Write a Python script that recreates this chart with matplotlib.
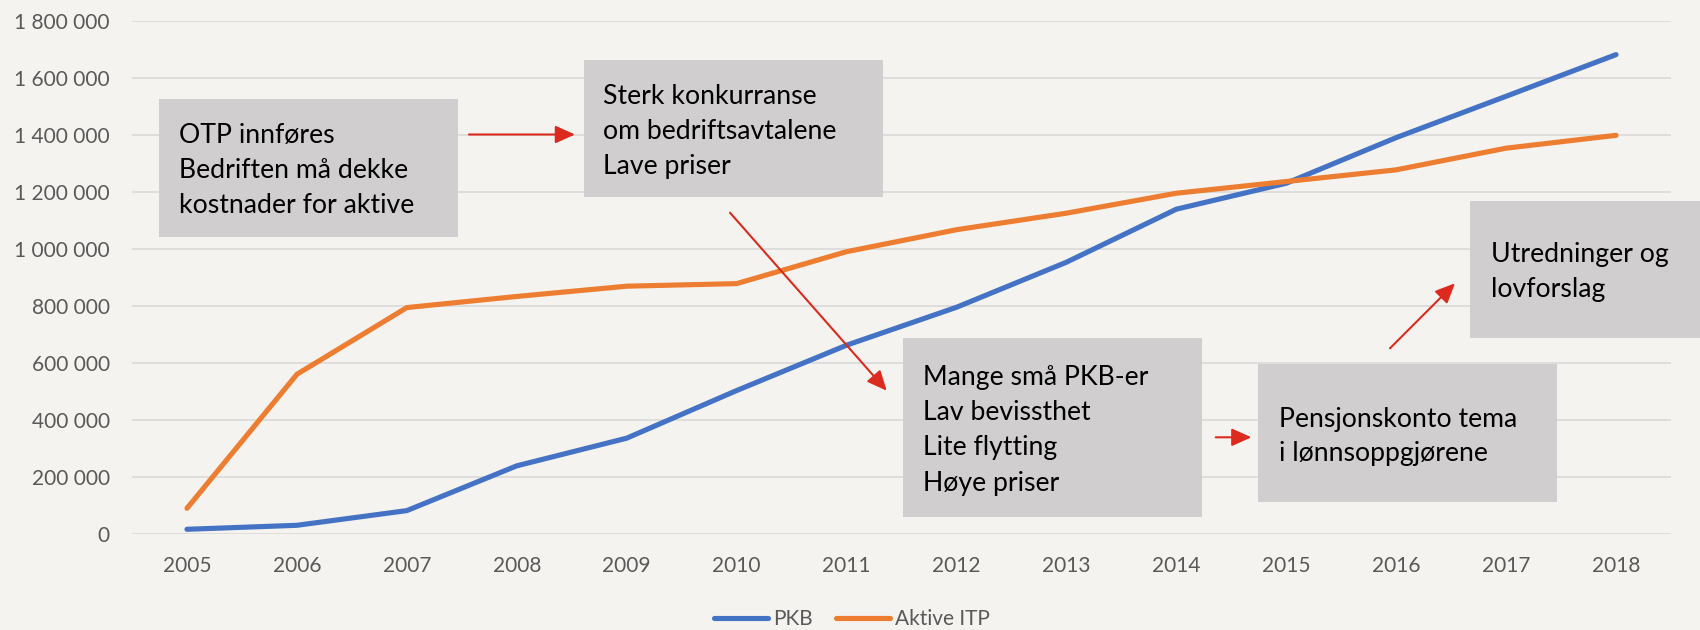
import matplotlib
matplotlib.use("Agg")
import matplotlib.pyplot as plt
from matplotlib.patches import Rectangle, FancyArrowPatch
from matplotlib.ticker import FuncFormatter, MultipleLocator

# ---------------- data ----------------
years = ["2005", "2006", "2007", "2008", "2009", "2010", "2011",
         "2012", "2013", "2014", "2015", "2016", "2017", "2018"]
pkb = [16500, 30500, 82000, 239000, 336000, 503000, 662000,
       795000, 953000, 1139000, 1230000, 1390000, 1535000, 1681000]
aktive_itp = [90000, 560000, 794000, 833000, 869000, 878000, 990000,
              1067000, 1125000, 1195000, 1236000, 1277000, 1353000, 1398000]
series_names = ["PKB", "Aktive ITP"]

box_texts = [
    ["OTP innføres", "Bedriften må dekke", "kostnader for aktive"],
    ["Sterk konkurranse", "om bedriftsavtalene", "Lave priser"],
    ["Mange små PKB-er", "Lav bevissthet", "Lite flytting", "Høye priser"],
    ["Pensjonskonto tema", "i lønnsoppgjørene"],
    ["Utredninger og", "lovforslag"],
]

# ---------------- style ----------------
W, H = 1700, 630
BG = "#F5F3EF"
BOX = "#D0CECE"
RED = "#DC2A1E"
BLUE = "#4472C4"
ORANGE = "#ED7D31"
GRAY = "#595959"
FONT = "Lato"

plt.rcParams["font.family"] = [FONT, "DejaVu Sans"]

fig = plt.figure(figsize=(W / 100, H / 100), dpi=100, facecolor=BG)


def fx(px):
    return px / W


def fy(py):
    return 1 - py / H


ax_l, ax_r, ax_t, ax_b = 132, 1671, 20.7, 534
ax = fig.add_axes([fx(ax_l), fy(ax_b), fx(ax_r - ax_l), (ax_b - ax_t) / H])
ax.set_facecolor(BG)

x = list(range(len(years)))
ax.plot(x, pkb, color=BLUE, lw=3.7, solid_capstyle="round",
        solid_joinstyle="round", label=series_names[0], zorder=3)
ax.plot(x, aktive_itp, color=ORANGE, lw=3.7, solid_capstyle="round",
        solid_joinstyle="round", label=series_names[1], zorder=3)

ax.set_xlim(-0.5, len(years) - 0.5)
ax.set_ylim(0, 1800000)
ax.yaxis.set_major_locator(MultipleLocator(200000))
ax.yaxis.set_major_formatter(FuncFormatter(lambda v, p: f"{int(v):,}".replace(",", " ")))
ax.set_xticks(x)
ax.set_xticklabels(years)
ax.grid(axis="y", color="#D9D9D9", lw=1.2, zorder=0)
ax.set_axisbelow(True)
for s in ax.spines.values():
    s.set_visible(False)
ax.tick_params(axis="both", length=0, colors=GRAY, labelsize=15)
ax.tick_params(axis="y", pad=16)
ax.tick_params(axis="x", pad=16)

# legend
fig.legend(loc="center", bbox_to_anchor=(fx(852), fy(619)), ncol=2,
           frameon=False, fontsize=15, handlelength=2.6, handletextpad=0.25,
           columnspacing=1.1, labelcolor=GRAY)

# ---------------- annotation boxes ----------------
# (left, top, right, bottom, text_x, first_baseline, line_step)
boxes = [
    (159, 99, 457.7, 236.7, 179, 143.3, 34.7),
    (584, 60, 882.7, 197.3, 603.3, 104, 35),
    (902.7, 338.3, 1201.7, 516.7, 923.3, 385, 35.2),
    (1257.9, 364, 1557, 501.7, 1278.6, 426.5, 35),
    (1470, 201, 1712, 338.3, 1490.7, 261.7, 35),
]
for (l, t, r, b, tx, by, step), lines in zip(boxes, box_texts):
    fig.patches.append(Rectangle((fx(l), fy(b)), fx(r - l), (b - t) / H,
                                 transform=fig.transFigure, facecolor=BOX,
                                 edgecolor="none", zorder=5))
    for i, line in enumerate(lines):
        fig.text(fx(tx), fy(by + i * step), line, fontsize=19.2,
                 color="black", ha="left", va="baseline", zorder=6)

# ---------------- arrows ----------------
arrows = [
    ((469, 134.5), (575, 134.5)),
    ((730, 212.7), (886.7, 390.7)),
    ((1215.7, 437.3), (1251.4, 437.3)),
    ((1390, 348.3), (1455, 283.3)),
]
for (x0, y0), (x1, y1) in arrows:
    fig.patches.append(FancyArrowPatch(
        (fx(x0), fy(y0)), (fx(x1), fy(y1)), transform=fig.transFigure,
        arrowstyle="-|>,head_length=0.8,head_width=0.36", mutation_scale=15,
        color=RED, lw=1.5, shrinkA=0, shrinkB=0, zorder=7))

fig.savefig("out.png", dpi=100, facecolor=BG)
